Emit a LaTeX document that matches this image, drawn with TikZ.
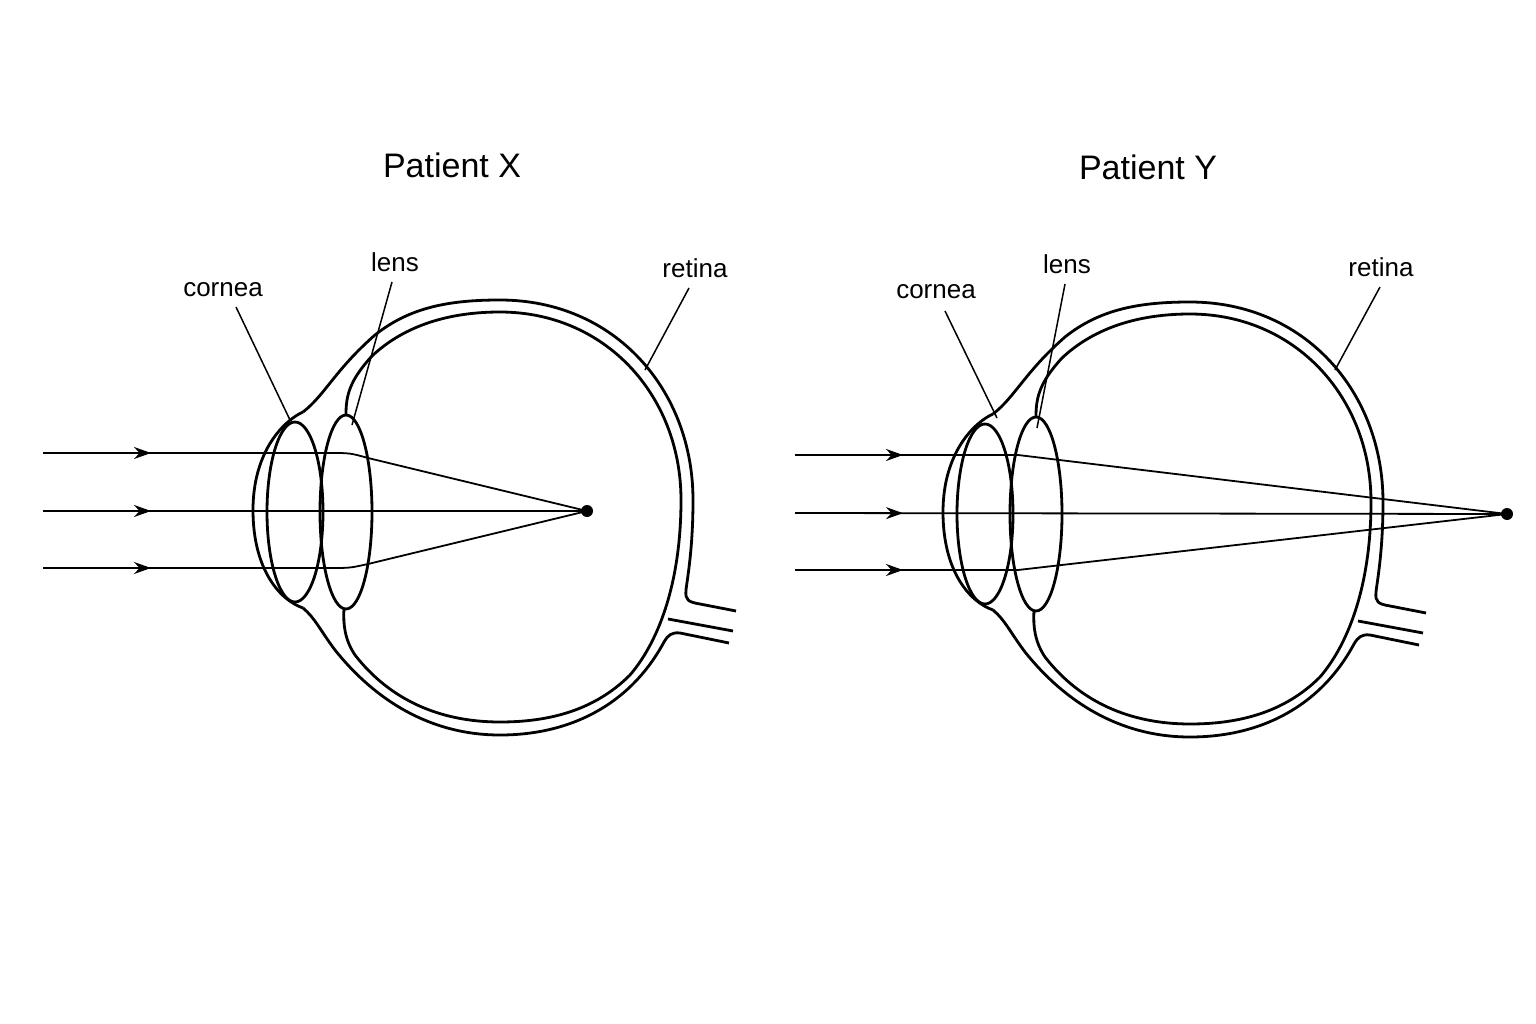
\documentclass[tikz,border=0pt]{standalone}
\usepackage{fontspec}
\setmainfont{Liberation Sans}
\usetikzlibrary{arrows.meta,decorations.markings}
\begin{document}
\begin{tikzpicture}[x=1pt,y=-1pt,
  eye/.style={line width=2.8pt,line join=round},
  ray/.style={line width=1.8pt},
  arr/.style={ray,postaction={decorate},decoration={markings,mark=at position 108pt with {\arrow{Stealth[length=17pt,width=12pt]}}}},
  lead/.style={line width=1.5pt},
  title/.style={font=\fontsize{34}{40}\selectfont},
  lab/.style={font=\fontsize{26}{30}\selectfont}]
\useasboundingbox (0,0) rectangle (1536,1024);
\fill[white] (0,0) rectangle (1536,1024);
\newcommand{\drawEye}{%
  \draw[eye] (303,412) .. controls (325,395) and (335,370) .. (375,335) .. controls (410,307) and (450,300) .. (500,300) .. controls (615,300) and (693,390) .. (693,500) .. controls (693,550) and (687,580) .. (686,590) .. controls (685,600) and (688,602) .. (700,604) -- (736,611);
  \draw[eye] (729,643) -- (680,633) .. controls (672,632) and (668,635) .. (664,642) .. controls (630,705) and (570,735) .. (500,735) .. controls (430,735) and (375,700) .. (335,650) .. controls (320,630) and (315,618) .. (303,608);
  \draw[eye] (303,412) .. controls (285,420) and (253,450) .. (253,510) .. controls (253,570) and (280,600) .. (303,608);
  \draw[eye] (668,619) -- (733,631);
  \draw[eye] (346,414) .. controls (346,395) and (350,380) .. (372,356) .. controls (405,325) and (450,312) .. (500,312) .. controls (605,312) and (681,395) .. (681,500) .. controls (681,580) and (660,640) .. (630,675) .. controls (595,710) and (550,722) .. (500,722) .. controls (440,722) and (390,700) .. (355,655) .. controls (345,640) and (343,625) .. (344,609);
  \draw[eye] (295,512) ellipse[x radius=28,y radius=90];
  \draw[eye] (346,512) ellipse[x radius=26,y radius=97];
}
% Patient X
\node[title] (tx) at (452,165) {Patient X};
\drawEye
\coordinate (fx) at (587,511);
\fill (fx) circle (6);
\coordinate (sxa) at (43,453); \coordinate (sxb) at (43,511); \coordinate (sxc) at (43,568);
\coordinate (bxa) at (330,453); \coordinate (bxc) at (330,568);
\draw[arr] (sxa) -- (bxa);
\draw[ray] (bxa) .. controls (350,453) .. (368,458) -- (fx);
\draw[arr] (sxb) -- (fx);
\draw[arr] (sxc) -- (bxc);
\draw[ray] (bxc) .. controls (350,568) .. (368,564) -- (fx);
\node[lab] (cx) at (223,290) {cornea};
\node[lab] (lx) at (395,262) {lens};
\node[lab] (rx) at (695,268) {retina};
\draw[lead] (236,307) -- (290,420);
\draw[lead] (392,282) -- (352,425);
\draw[lead] (689,288) -- (645,370);
% Patient Y
\node[title] (ty) at (1148,167) {Patient Y};
\begin{scope}[shift={(690,2)}]
\drawEye
\end{scope}
\coordinate (fy) at (1507,514);
\fill (fy) circle (6);
\coordinate (sya) at (795,455); \coordinate (syb) at (795,513); \coordinate (syc) at (795,570);
\coordinate (bya) at (1018,455); \coordinate (byc) at (1018,570);
\draw[arr] (sya) -- (bya);
\draw[ray] (bya) -- (fy);
\draw[arr] (syb) -- (fy);
\draw[arr] (syc) -- (byc);
\draw[ray] (byc) -- (fy);
\node[lab] (cy) at (936,292) {cornea};
\node[lab] (ly) at (1067,264) {lens};
\node[lab] (ry) at (1381,267) {retina};
\draw[lead] (945,311) -- (997,418);
\draw[lead] (1065,284) -- (1037,428);
\draw[lead] (1380,287) -- (1335,370);
\end{tikzpicture}
\end{document}
